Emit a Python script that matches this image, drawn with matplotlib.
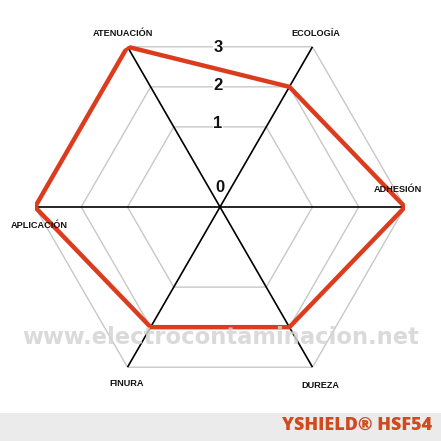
import numpy as np
import matplotlib
matplotlib.use("Agg")
import matplotlib.pyplot as plt
from matplotlib.patches import Rectangle

categories = ["ATENUACIÓN", "ECOLOGÍA", "ADHESIÓN", "DUREZA", "FINURA", "APLICACIÓN"]
values = [3, 2, 3, 2, 2, 3]
grid_levels = [1, 2, 3]
level_labels = ["0", "1", "2", "3"]
watermark = "www.electrocontaminacion.net"
brand = "YSHIELD® HSF54"

W = H = 441
fig = plt.figure(figsize=(4.41, 4.41), dpi=100)
fig.patch.set_facecolor("white")

def fx(x):
    return x / W

def fy(y):
    return 1 - y / H

cx, cy, R = 220, 207, 185
ax = fig.add_axes([fx(cx - R), fy(cy + R), 2 * R / W, 2 * R / H], projection="polar")
ax.set_theta_offset(np.deg2rad(120))
ax.set_theta_direction(-1)
ax.set_ylim(-1, 3)
ax.grid(False)
ax.set_xticks([])
ax.set_yticks([])
ax.spines["polar"].set_visible(False)
ax.patch.set_alpha(0)

n = len(categories)
theta = np.arange(n) * 2 * np.pi / n
theta_closed = np.append(theta, theta[0])

for lv in grid_levels:
    ax.plot(theta_closed, [lv] * (n + 1), color="#c8c8c8", lw=1.0, zorder=1)

for t in theta:
    ax.plot([t, t], [-1, grid_levels[-1]], color="black", lw=1.2, zorder=2)

vals_closed = values + values[:1]
ax.plot(theta_closed, vals_closed, color="#dc3c1e", lw=3.2, zorder=3,
        solid_joinstyle="miter")

# level labels
lab_font = dict(family="Liberation Sans", weight="bold", fontsize=12, color="#111111")
lab_pos = [(220, 188), (218, 123), (218, 85), (218, 47)]
for txt, (x, y) in zip(level_labels, lab_pos):
    fig.text(fx(x), fy(y), txt, ha="center", va="center", zorder=5, **lab_font,
             bbox=dict(boxstyle="square,pad=0.05", fc="white", ec="none") if txt != "0" else None)

# category labels
cat_pos = [(123, 34), (316, 34), (398, 189), (320, 386), (127, 383), (39, 225)]
for txt, (x, y) in zip(categories, cat_pos):
    fig.text(fx(x), fy(y), txt, ha="center", va="center",
             family="Liberation Sans", weight="bold", fontsize=6.6, color="#111111")

# watermark
fig.text(fx(221), fy(337), watermark, ha="center", va="center",
         family="DejaVu Sans", weight="bold", fontsize=16.3, color="#d4d4d4",
         alpha=0.85, zorder=10)

# banner
fig.patches.append(Rectangle((0, 0), 1, fy(413), transform=fig.transFigure,
                             facecolor="#ebebeb", edgecolor="none", zorder=0))
fig.text(fx(432), fy(425), brand, ha="right", va="center",
         family="Open Sans", weight="heavy", fontsize=13, color="#cf4a1f")

fig.savefig("out.png", dpi=100)
